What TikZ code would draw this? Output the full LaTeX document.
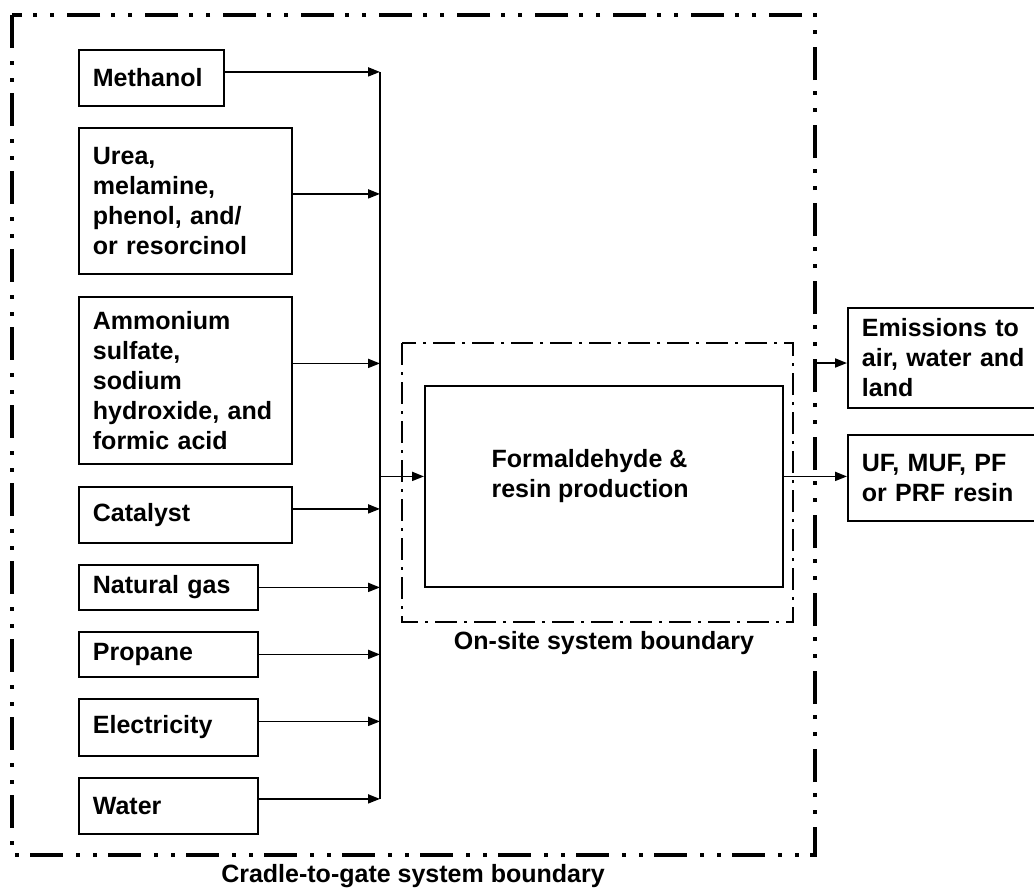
\documentclass[tikz,border=0pt]{standalone}
\usepackage{fontspec}
\setmainfont{Liberation Sans}
\usetikzlibrary{arrows.meta}

\begin{document}
\begin{tikzpicture}[x=1pt,y=-1pt,>={Triangle[length=12pt,width=9pt]},font=\fontsize{25}{30}\selectfont\bfseries]
    \tikzstyle{rec}=[draw=black,line width=1.8pt,rectangle,anchor=north west,align=left,inner xsep=14pt,inner ysep=0pt]
    \tikzstyle{flow}=[line width=1.8pt]
    \tikzstyle{cradlebnd}=[line width=4pt,dash pattern=on 33pt off 13pt on 4pt off 13pt on 4pt off 11pt]
    \tikzstyle{sitebnd}=[line width=2.5pt,dash pattern=on 22pt off 7pt on 3pt off 7pt]
    \useasboundingbox (0,0) rectangle (1034,892);

    % inputs
    \node[rec, minimum width=145, minimum height=56, text width=117] (meth) at (78,49) {Methanol};
    \node[rec, minimum width=213, minimum height=146, text width=185] (urea) at (78,127) {Urea,\\melamine,\\phenol, and/\\or resorcinol};
    \node[rec, minimum width=213, minimum height=167, text width=185] (ammo) at (78,296) {Ammonium\\sulfate,\\sodium\\hydroxide, and\\formic acid};
    \node[rec, minimum width=213, minimum height=56, text width=185] (cat) at (78,486) {Catalyst};
    \node[rec, minimum width=179, minimum height=45, text width=151] (gas) at (78,564) {Natural gas};
    \node[rec, minimum width=179, minimum height=45, text width=151] (prop) at (78,631) {Propane};
    \node[rec, minimum width=179, minimum height=57, text width=151] (elec) at (78,698) {Electricity};
    \node[rec, minimum width=179, minimum height=56, text width=151] (water) at (78,777) {Water};

    % process and outputs
    \node[rec, minimum width=358, minimum height=201] (proc) at (424,385) {};
    \node[anchor=west, align=left] (proctxt) at (488,476) {Formaldehyde \&\\resin production};
    \node[rec, minimum width=193, minimum height=100, text width=165] (emis) at (847,307) {Emissions to\\air, water and\\land};
    \node[rec, minimum width=193, minimum height=86, text width=165] (uf) at (847,434) {UF, MUF, PF\\or PRF resin};

    \coordinate (bus) at (380,0);
    \coordinate (leak) at (815,363);

    \foreach \n/\dy in {meth/6,urea/7,ammo/17,cat/6,gas/0,prop/0,elec/6,water/7}
        \draw[flow,->] ([yshift=\dy pt]\n.east) -- ([yshift=\dy pt]\n.east -| bus);
    \draw[flow] ([yshift=6pt]meth.east -| bus) -- ([yshift=7pt]water.east -| bus);
    \draw[flow,->] ([yshift=10pt]proc.west -| bus) -- ([yshift=10pt]proc.west);
    \draw[flow,->] ([yshift=10pt]proc.east) -- ([yshift=10pt]proc.east -| uf.west);
    \draw[flow,->] (leak) -- (leak -| emis.west);

    % boundaries
    \draw[cradlebnd] (12,15) rectangle (815,855);
    \draw[sitebnd] (402,343) rectangle (793,622);
    \node (sitelbl) at (604,643) {On-site system boundary};
    \node (cradlelbl) at (413,876) {Cradle-to-gate system boundary};

\end{tikzpicture}
\end{document}
